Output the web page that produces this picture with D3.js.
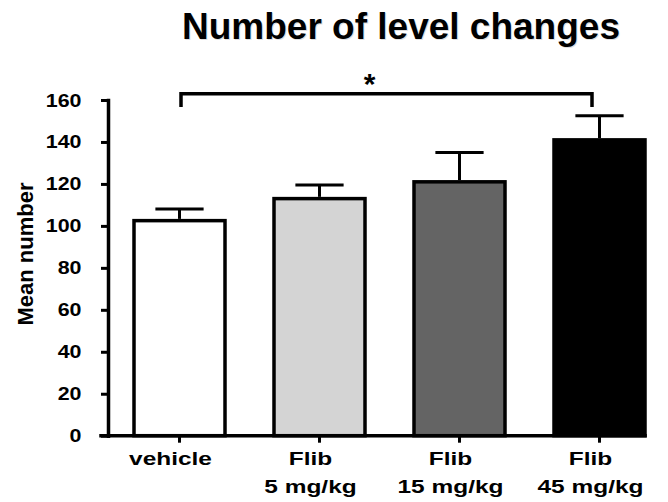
<!DOCTYPE html>
<html>
<head>
<meta charset="utf-8">
<script src="https://cdn.jsdelivr.net/npm/d3@7"></script>
<style>
  body { margin: 0; background: #fff; }
  svg text { font-family: 'Liberation Sans', Arial, sans-serif; font-weight: bold; fill: #000; }
</style>
</head>
<body>
<svg id="bar-chart" width="668" height="502"></svg>
<script>
// chart data
const categories = ['vehicle', 'Flib 5', 'Flib 15', 'Flib 45'];
const labelLines = [['vehicle'], ['Flib', '5 mg/kg'], ['Flib', '15 mg/kg'], ['Flib', '45 mg/kg']];
const means = [102.5, 113, 121, 141];
const sems = [5.5, 6.5, 14, 11.5];
const yTicks = [0, 20, 40, 60, 80, 100, 120, 140, 160];
const title = 'Number of level changes';
const yLabel = 'Mean number';
// significance bracket: vehicle vs 45 mg/kg
const bracketPair = ['vehicle', 'Flib 45'];
const bracketLevel = 163;
const bracketDrop = 156.7;

const fills = ['#ffffff', '#d4d4d4', '#646464', '#000000'];

const svg = d3.select('#bar-chart');
const axisX = 108;
const axisWidth = 3.5;

const x = d3.scaleBand()
  .domain(categories)
  .range([109.5, 669.5])
  .paddingInner(0.35)
  .paddingOuter(0.175);

const y = d3.scaleLinear()
  .domain([0, 160])
  .range([435.7, 100]);

// title with a faint shadow
svg.append('text')
  .attr('x', 402).attr('y', 40)
  .attr('text-anchor', 'middle')
  .attr('font-size', 37)
  .style('fill', '#dedede')
  .text(title);
svg.append('text')
  .attr('x', 401).attr('y', 39)
  .attr('text-anchor', 'middle')
  .attr('font-size', 37)
  .text(title);

// bars
svg.append('g')
  .selectAll('rect')
  .data(means)
  .join('rect')
  .attr('x', (d, i) => x(categories[i]))
  .attr('width', x.bandwidth())
  .attr('y', d => y(d))
  .attr('height', d => y(0) - y(d))
  .attr('fill', (d, i) => fills[i])
  .attr('stroke', '#000')
  .attr('stroke-width', 3.5);

// error bars (upper half only)
const capHalf = x.bandwidth() * 0.265;
const err = svg.append('g').attr('stroke', '#000').attr('stroke-width', 3);
err.selectAll('.stem')
  .data(means)
  .join('line')
  .attr('class', 'stem')
  .attr('x1', (d, i) => x(categories[i]) + x.bandwidth() / 2)
  .attr('x2', (d, i) => x(categories[i]) + x.bandwidth() / 2)
  .attr('y1', d => y(d) - 1.75)
  .attr('y2', (d, i) => y(d + sems[i]));
err.selectAll('.cap')
  .data(means)
  .join('line')
  .attr('class', 'cap')
  .attr('x1', (d, i) => x(categories[i]) + x.bandwidth() / 2 - capHalf)
  .attr('x2', (d, i) => x(categories[i]) + x.bandwidth() / 2 + capHalf)
  .attr('y1', (d, i) => y(d + sems[i]))
  .attr('y2', (d, i) => y(d + sems[i]));

// y axis
const yAxis = svg.append('g')
  .attr('transform', `translate(${axisX},0)`)
  .call(d3.axisLeft(y).tickValues(yTicks).tickSize(7).tickSizeOuter(0));
yAxis.select('.domain')
  .attr('stroke-width', axisWidth)
  .attr('stroke-linecap', 'square');
yAxis.selectAll('.tick line').attr('stroke-width', 3);
yAxis.selectAll('.tick text')
  .attr('font-size', 18.8)
  .attr('x', -26.5 / 1.14)
  .attr('transform', 'scale(1.14,1)');

// x axis
const xAxis = svg.append('g')
  .attr('transform', `translate(0,${y(0)})`)
  .call(d3.axisBottom(x).tickSize(7).tickSizeOuter(0));
xAxis.select('.domain')
  .attr('d', `M${axisX - 7},0H${x(categories[categories.length - 1]) + x.bandwidth()}`)
  .attr('stroke-width', axisWidth)
  .attr('stroke-linecap', 'square');
xAxis.selectAll('.tick line').attr('stroke-width', 3);
xAxis.selectAll('.tick text').remove();

// x labels, two lines each
svg.append('g')
  .selectAll('text')
  .data(labelLines)
  .join('text')
  .attr('text-anchor', 'middle')
  .attr('font-size', 18.8)
  .attr('transform', (d, i) => `translate(${x(categories[i]) + x.bandwidth() / 2 - 9},465) scale(1.3,1)`)
  .selectAll('tspan')
  .data(d => d)
  .join('tspan')
  .attr('x', 0)
  .attr('y', (d, j) => j * 27.7)
  .text(d => d);

// y axis title
svg.append('text')
  .attr('transform', 'translate(33,254) rotate(-90)')
  .attr('text-anchor', 'middle')
  .attr('font-size', 22)
  .text(yLabel);

// significance bracket
const bx1 = x(bracketPair[0]) + x.bandwidth() / 2 + 1.5;
const bx2 = x(bracketPair[1]) + x.bandwidth() / 2 - 7.5;
svg.append('path')
  .attr('d', `M${bx1},${y(bracketDrop)}V${y(bracketLevel)}H${bx2}V${y(bracketDrop)}`)
  .attr('fill', 'none')
  .attr('stroke', '#000')
  .attr('stroke-width', 3.5);
svg.append('text')
  .attr('x', (bx1 + bx2) / 2 - 17)
  .attr('y', 94)
  .attr('text-anchor', 'middle')
  .attr('font-size', 30)
  .text('*');
</script>
</body>
</html>
